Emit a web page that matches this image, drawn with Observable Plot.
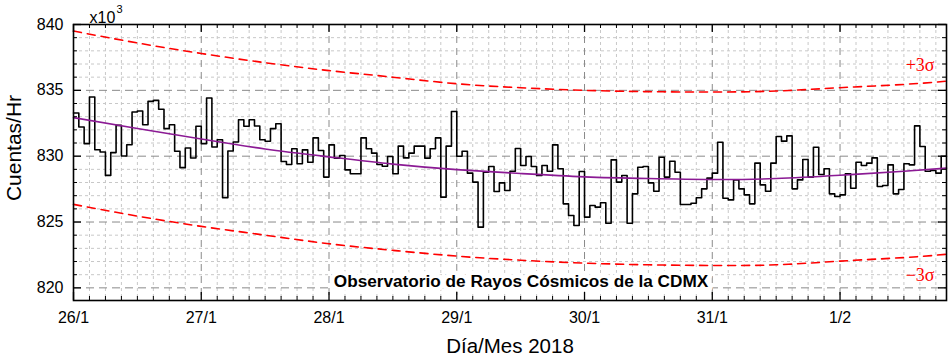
<!DOCTYPE html>
<html>
<head>
<meta charset="utf-8">
<script src="https://cdn.jsdelivr.net/npm/d3@7"></script>
<script src="https://cdn.jsdelivr.net/npm/@observablehq/plot@0.6"></script>
<style>
  html, body { margin: 0; padding: 0; background: white; }
</style>
</head>
<body>
<div id="chart"></div>
<script>
// Hourly cosmic-ray counts (x10^3 counts/hr), starting 26/1/2018 00:00 UTC
const startTime = "2018-01-26T00:00:00Z";
const endTime = "2018-02-01T20:00:00Z";
const counts = [
  833.28, 832.22, 830.95, 834.49, 830.49, 830.32, 828.54, 830.27, 832.34, 830.01,
  830.87, 833.35, 833.43, 832.39, 834.16, 834.24, 833.56, 832.09, 832.39, 830.37,
  829.13, 830.62, 829.86, 832.27, 830.95, 834.42, 830.70, 831.25, 826.85, 830.39,
  831.08, 832.77, 832.27, 832.77, 832.29, 831.25, 831.13, 832.09, 832.46, 829.60,
  829.37, 830.56, 829.42, 830.48, 829.54, 831.39, 830.43, 828.41, 830.86, 829.85,
  830.05, 828.96, 828.66, 828.66, 831.39, 830.56, 830.23, 829.37, 829.24, 829.97,
  828.66, 830.76, 829.87, 830.23, 830.76, 830.76, 829.85, 830.56, 831.39, 826.89,
  830.76, 833.39, 830.00, 830.38, 828.71, 828.03, 824.61, 828.78, 829.22, 827.32,
  827.97, 827.39, 828.86, 830.58, 829.29, 829.97, 829.22, 828.53, 829.29, 828.86,
  830.86, 829.04, 826.38, 825.49, 824.73, 828.84, 825.37, 826.25, 826.13, 826.46,
  824.91, 829.72, 828.03, 828.53, 824.91, 827.14, 829.16, 829.22, 827.97, 827.34,
  829.92, 828.41, 829.62, 828.78, 826.33, 826.33, 826.43, 826.84, 827.52, 828.33,
  828.71, 831.06, 826.81, 826.68, 828.20, 827.52, 827.06, 826.38, 829.47, 827.82,
  827.34, 829.47, 831.49, 831.14, 831.54, 827.52, 828.20, 829.75, 828.41, 830.68,
  828.61, 829.04, 827.14, 826.94, 827.06, 828.66, 827.57, 829.54, 829.29, 829.47,
  829.87, 827.70, 827.77, 829.34, 827.14, 827.47, 829.42, 829.34, 832.30, 830.73,
  828.86, 828.91, 828.71, 830.00
];
// Trend and ±3σ curves, read at these hour offsets from the start
const curveHours = [0, 12, 24, 36, 48, 60, 72, 84, 96, 108, 120, 132, 144, 156, 164];
const trend = [832.93, 832.1, 831.3, 830.55, 829.95, 829.4, 828.98, 828.68, 828.43, 828.3, 828.23, 828.3, 828.55, 828.85, 829.09];
const upper = [839.5, 838.6, 837.8, 837.1, 836.5, 836.0, 835.5, 835.2, 835.0, 834.9, 834.87, 834.95, 835.2, 835.45, 835.7];
const lower = [826.34, 825.45, 824.67, 824.0, 823.35, 822.85, 822.41, 822.1, 821.88, 821.75, 821.7, 821.75, 822.03, 822.3, 822.55];
const yTicks = [820, 825, 830, 835, 840];
const title = "Observatorio de Rayos Cósmicos de la CDMX";
const xLabel = "Día/Mes 2018";
const yLabel = "Cuentas/Hr";
const plusLabel = "+3σ";
const minusLabel = "\u22123σ";

const t0 = new Date(startTime);
const t1 = new Date(endTime);
const HOUR = 3600e3;
const hourDate = h => new Date(+t0 + h * HOUR);

const steps = counts.map((v, i) => ({t: hourDate(i), v}));
steps.push({t: hourDate(counts.length), v: counts[counts.length - 1]});
const curveRows = curveHours.map((h, i) => ({t: hourDate(h), trend: trend[i], upper: upper[i], lower: lower[i]}));

const days = d3.utcDay.range(t0, t1);
const innerDays = days.slice(1);
const minorX = d3.utcHour.every(3).range(t0, t1).filter(d => d.getUTCHours() !== 0);
const yMin = 819.04, yMax = 840;
const minorY = d3.range(820, 840).filter(v => v % 5 !== 0);
const majorYGrid = yTicks.filter(v => v < yMax);

const W = 952, H = 361, mL = 73, mR = 6, mT = 24, mB = 61;
const innerW = W - mL - mR, innerH = H - mT - mB;
const fmt = d => `${d.getUTCDate()}/${d.getUTCMonth() + 1}`;
const serif = "'Liberation Serif', 'DejaVu Serif', serif";

const chart = Plot.plot({
  width: W, height: H,
  marginLeft: mL, marginRight: mR, marginTop: mT, marginBottom: mB,
  style: {fontFamily: "'Liberation Sans', Arial, sans-serif", fontSize: "16px", color: "black", background: "white"},
  x: {type: "utc", domain: [t0, t1]},
  y: {domain: [yMin, yMax]},
  marks: [
    // minor grid
    Plot.ruleX(minorX, {x: d => d, stroke: "#c8c8c8", strokeDasharray: "3,3"}),
    Plot.ruleY(minorY, {y: d => d, stroke: "#c8c8c8", strokeDasharray: "3,3"}),
    // major grid
    Plot.ruleX(innerDays, {x: d => d, stroke: "#8a8a8a", strokeDasharray: "7,5"}),
    Plot.ruleY(majorYGrid, {y: d => d, stroke: "#8a8a8a", strokeDasharray: "8,5"}),
    // sigma bands
    Plot.line(curveRows, {x: "t", y: "upper", curve: "natural", stroke: "#ff0000", strokeWidth: 1.6, strokeDasharray: "8,6"}),
    Plot.line(curveRows, {x: "t", y: "lower", curve: "natural", stroke: "#ff0000", strokeWidth: 1.6, strokeDasharray: "8,6"}),
    // hourly data
    Plot.line(steps, {x: "t", y: "v", curve: "step-after", stroke: "black", strokeWidth: 1.6}),
    // trend
    Plot.line(curveRows, {x: "t", y: "trend", curve: "natural", stroke: "#8b1a94", strokeWidth: 1.6}),
    // axes labels
    Plot.axisX({ticks: days, tickSize: 0, tickPadding: 11, tickFormat: fmt, fontSize: 16, label: null}),
    Plot.axisY({ticks: yTicks, tickSize: 0, tickPadding: 10, tickFormat: d => String(d), fontSize: 16, label: null}),
    // inward ticks: bottom & top
    Plot.ruleX(minorX, {x: d => d, insetTop: innerH - 4, stroke: "black"}),
    Plot.ruleX(minorX, {x: d => d, insetBottom: innerH - 4, stroke: "black"}),
    Plot.ruleX(days, {x: d => d, insetTop: innerH - 8, stroke: "black", strokeWidth: 1.3}),
    Plot.ruleX(days, {x: d => d, insetBottom: innerH - 8, stroke: "black", strokeWidth: 1.3}),
    // inward ticks: left & right
    Plot.ruleY(minorY, {y: d => d, insetRight: innerW - 4, stroke: "black"}),
    Plot.ruleY(minorY, {y: d => d, insetLeft: innerW - 4, stroke: "black"}),
    Plot.ruleY(yTicks, {y: d => d, insetRight: innerW - 8, stroke: "black", strokeWidth: 1.3}),
    Plot.ruleY(yTicks, {y: d => d, insetLeft: innerW - 8, stroke: "black", strokeWidth: 1.3}),
    Plot.frame({stroke: "black", strokeWidth: 1.6}),
    // texts
    Plot.text([title], {text: d => d, frameAnchor: "bottom", textAnchor: "middle", lineAnchor: "bottom", dx: 11, dy: -13.3, fontSize: 17.2, fontWeight: "bold", fill: "black", stroke: "white", strokeWidth: 9}),
    Plot.text([plusLabel], {text: d => d, frameAnchor: "top-right", textAnchor: "end", lineAnchor: "middle", dx: -12, dy: 41, fill: "#ff0000", fontSize: 18, fontFamily: serif}),
    Plot.text([minusLabel], {text: d => d, frameAnchor: "bottom-right", textAnchor: "end", lineAnchor: "middle", dx: -12, dy: -25, fill: "#ff0000", fontSize: 18, fontFamily: serif}),
    Plot.text(["x10"], {text: d => d, frameAnchor: "top-left", textAnchor: "start", lineAnchor: "middle", dx: 16, dy: -6.5, fontSize: 16}),
    Plot.text(["3"], {text: d => d, frameAnchor: "top-left", textAnchor: "start", lineAnchor: "middle", dx: 43, dy: -14.8, fontSize: 11}),
    Plot.text([yLabel], {text: d => d, frameAnchor: "left", textAnchor: "middle", lineAnchor: "middle", dx: -59, dy: -14.5, rotate: -90, fontSize: 21}),
    Plot.text([xLabel], {text: d => d, frameAnchor: "bottom", textAnchor: "middle", lineAnchor: "middle", dx: 0, dy: 45.5, fontSize: 20.5})
  ]
});
document.getElementById("chart").appendChild(chart);
</script>
</body>
</html>
